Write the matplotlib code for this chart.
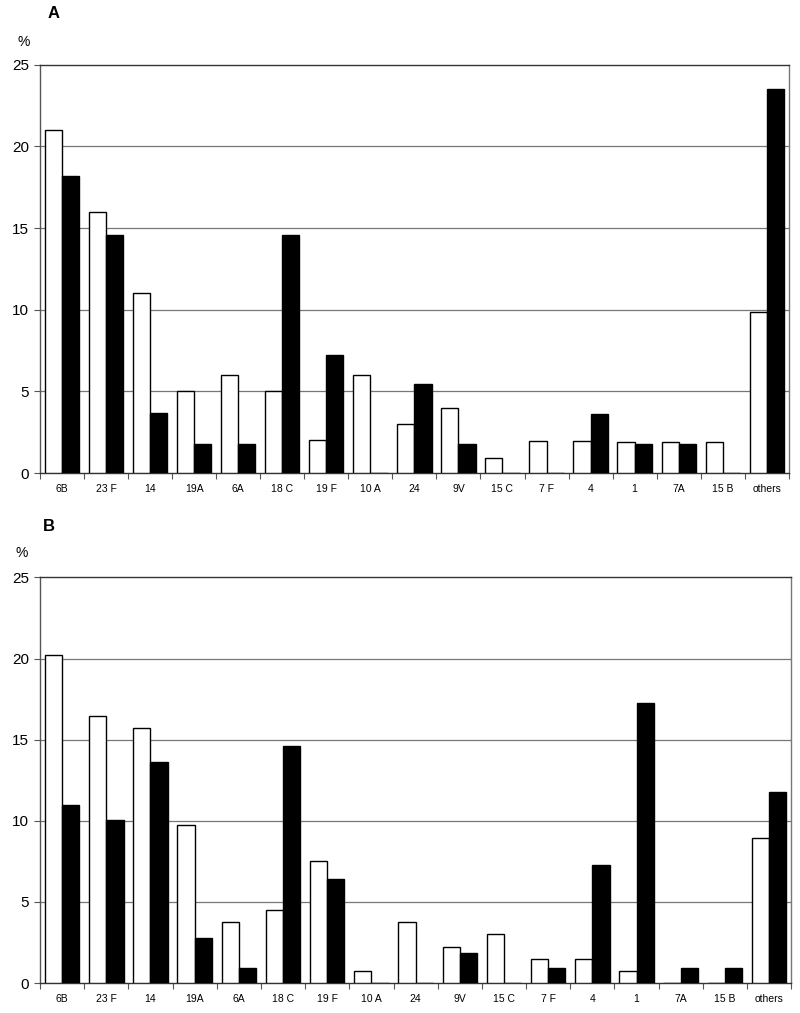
import matplotlib
matplotlib.use("Agg")
import matplotlib.pyplot as plt
import numpy as np

plt.rcParams['font.family'] = ['Liberation Sans', 'DejaVu Sans']

categories = ["6B", "23 F", "14", "19A", "6A", "18 C", "19 F", "10 A", "24", "9V",
              "15 C", "7 F", "4", "1", "7A", "15 B", "others"]

a_white = [21.0, 16.0, 11.0, 5.0, 6.0, 5.0, 2.0, 6.0, 3.0, 4.0, 0.95, 1.95, 1.95, 1.9, 1.9, 1.9, 9.85]
a_black = [18.2, 14.6, 3.65, 1.8, 1.8, 14.55, 7.25, 0.0, 5.45, 1.8, 0.0, 0.0, 3.6, 1.75, 1.75, 0.0, 23.55]

b_white = [20.2, 16.45, 15.7, 9.75, 3.75, 4.5, 7.5, 0.75, 3.75, 2.25, 3.0, 1.5, 1.5, 0.75, 0.0, 0.0, 8.95]
b_black = [10.95, 10.05, 13.65, 2.75, 0.92, 14.6, 6.4, 0.0, 0.0, 1.85, 0.0, 0.92, 7.3, 17.25, 0.92, 0.92, 11.8]

yticks = [0, 5, 10, 15, 20, 25]

fig = plt.figure(figsize=(8.0, 10.13), dpi=100)

def panel(rect, white, black, letter, letter_xy, pct_xy):
    ax = fig.add_axes(rect)
    n = len(categories)
    x = np.arange(n)
    w = 0.39
    ax.bar(x - w / 2, white, width=w, color="white", edgecolor="black", linewidth=1.0, zorder=3)
    ax.bar(x + w / 2, black, width=w, color="black", edgecolor="black", linewidth=1.0, zorder=3)
    ax.set_xlim(-0.5, n - 0.5)
    ax.set_ylim(0, 25)
    ax.set_yticks(yticks)
    ax.set_yticklabels([str(t) for t in yticks], fontsize=11)
    for t in yticks[1:-1]:
        ax.axhline(t, color="#777777", linewidth=0.9, zorder=1)
    ax.set_xticks(x)
    ax.set_xticklabels(categories, fontsize=7.5)
    ax.set_xticks(np.arange(-0.5, n + 0.5, 1.0), minor=True)
    ax.tick_params(axis="x", which="major", length=0, pad=8)
    ax.tick_params(axis="x", which="minor", length=4, width=0.8, color="#555555", direction="out")
    ax.tick_params(axis="y", which="major", length=4, width=0.8, color="#555555", pad=4)
    ax.spines["top"].set_color("#333333")
    ax.spines["right"].set_color("#777777")
    ax.spines["left"].set_color("#555555")
    ax.spines["bottom"].set_color("#333333")
    for s in ax.spines.values():
        s.set_linewidth(1.0)
    fig.text(letter_xy[0], letter_xy[1], letter, fontsize=12, fontweight="bold",
             ha="left", va="center")
    fig.text(pct_xy[0], pct_xy[1], "%", fontsize=10, ha="left", va="center")
    return ax

panel([0.05, 0.533, 0.936, 0.403], a_white, a_black, "A", (48 / 800, 1 - 14 / 1013), (18 / 800, 1 - 42 / 1013))
panel([0.05, 0.0296, 0.939, 0.4004], b_white, b_black, "B", (43 / 800, 1 - 526 / 1013), (15 / 800, 1 - 553 / 1013))

fig.savefig("out.png", dpi=100)
